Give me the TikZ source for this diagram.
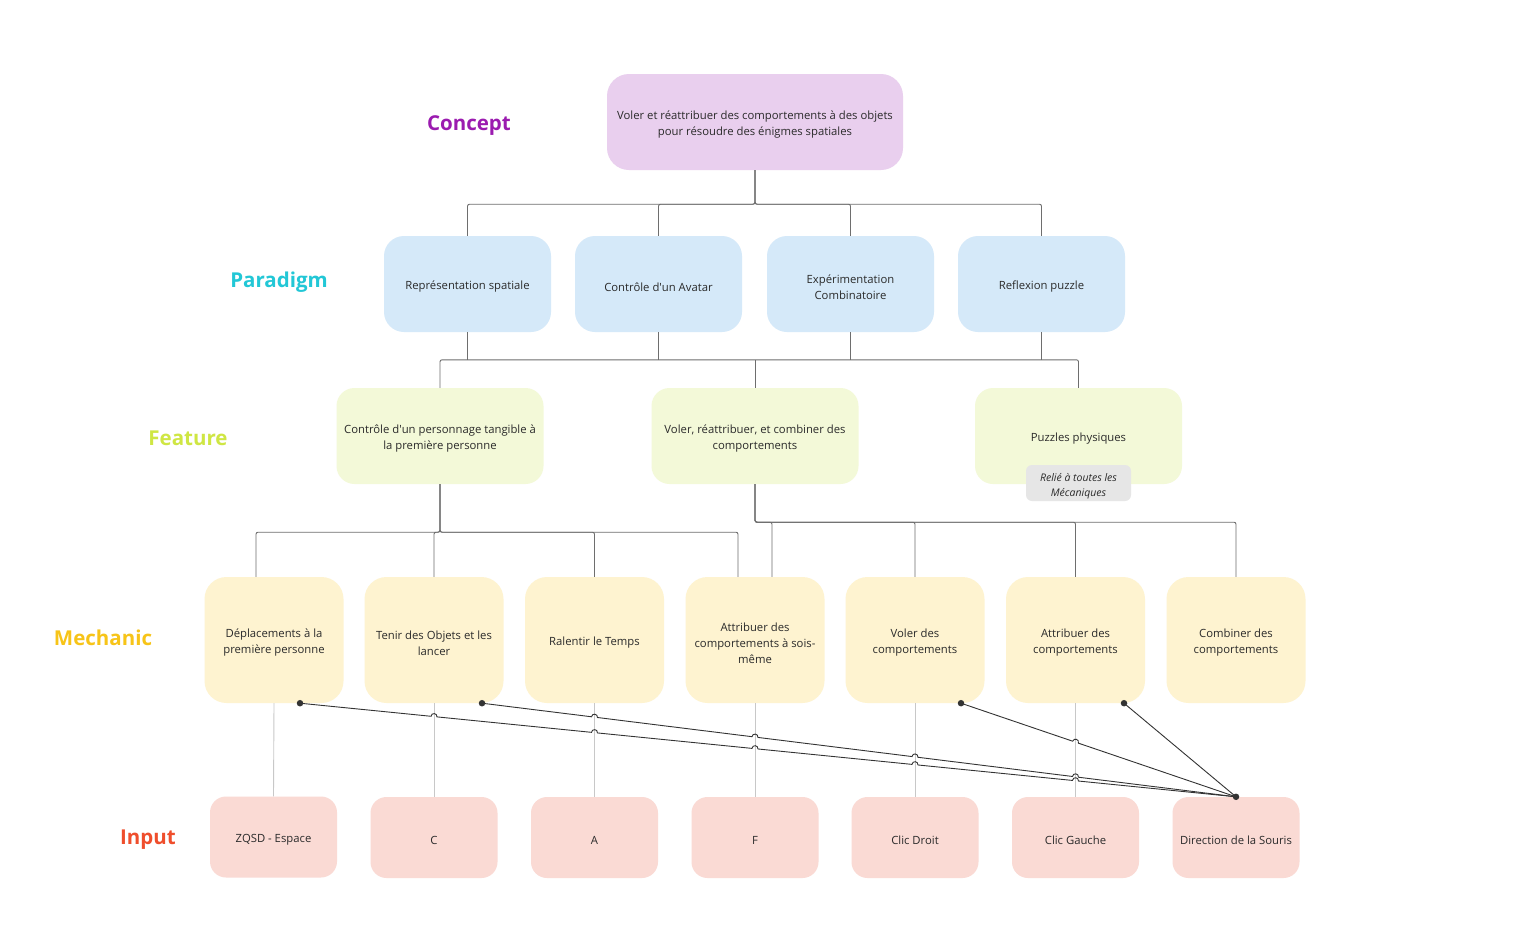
\documentclass[tikz,border=0pt]{standalone}
\usepackage{fontspec}
\setmainfont{Open Sans}
\usepackage{xcolor}
\usepackage{tikz}
\usetikzlibrary{calc}

% strut on the first line of each box text
\newcommand{\lift}{\rule{0pt}{14.5pt}}

\begin{document}
\begin{tikzpicture}[x=1pt,y=-1pt]
	\definecolor{cptfill}{HTML}{E9CFEE}
	\definecolor{parfill}{HTML}{D5E9F9}
	\definecolor{featfill}{HTML}{F3F9D8}
	\definecolor{mecfill}{HTML}{FEF3D0}
	\definecolor{inpfill}{HTML}{FADAD4}
	\definecolor{notefill}{HTML}{E6E6E6}
	\definecolor{cptcol}{HTML}{9B1BB0}
	\definecolor{parcol}{HTML}{22C7D6}
	\definecolor{featcol}{HTML}{CFE643}
	\definecolor{meccol}{HTML}{F7C418}
	\definecolor{inpcol}{HTML}{EF4E2C}
	\definecolor{txtgray}{HTML}{2A2A2A}
	\definecolor{branchgray}{HTML}{6E6E6E}
	\definecolor{keygray}{HTML}{C8C8C8}
	\definecolor{wiregray}{HTML}{333333}
	\tikzset{
		box/.style={
			rounded corners=20pt,
			inner sep=0pt,
			align=center,
			text=txtgray,
			font=\fontsize{11.3}{16}\selectfont
		},
		cptbox/.style={box, fill=cptfill, minimum width=296pt, minimum height=96pt, rounded corners=22pt},
		parbox/.style={box, fill=parfill, minimum width=167pt, minimum height=96pt},
		featbox/.style={box, fill=featfill, minimum width=207pt, minimum height=96pt, rounded corners=18pt},
		mecbox/.style={box, fill=mecfill, minimum width=139pt, minimum height=126pt, rounded corners=22pt},
		inpbox/.style={box, fill=inpfill, minimum width=127pt, minimum height=81pt, rounded corners=16pt},
		notebox/.style={box, fill=notefill, minimum width=105pt, minimum height=36pt, rounded corners=6pt,
			font=\fontsize{10.5}{15}\selectfont\itshape},
		rowlabel/.style={font=\fontsize{20.5}{24}\selectfont\bfseries, inner sep=0pt},
		branch/.style={draw=branchgray, line width=0.9pt, rounded corners=2pt},
		keyln/.style={draw=keygray, line width=0.9pt},
		wire/.style={draw=wiregray, line width=0.9pt},
		dot/.style={circle, fill=wiregray, inner sep=0pt, minimum size=6.5pt}
	}
	
	\useasboundingbox[fill=white] (0,0) rectangle (1517,945);
	
	% ======= Row labels =======
	\node[rowlabel, text=cptcol]  (lcpt)  at (469,126) {Concept};
	\node[rowlabel, text=parcol]  (lpar)  at (279,282) {Paradigm};
	\node[rowlabel, text=featcol] (lfeat) at (188,438) {Feature};
	\node[rowlabel, text=meccol]  (lmec)  at (103,638) {Mechanic};
	\node[rowlabel, text=inpcol]  (linp)  at (148,840) {Input};
	
	% ======= Concept =======
	\node[cptbox] (cpt) at (755,122) {\lift Voler et réattribuer des comportements à des objets\\pour résoudre des énigmes spatiales};
	
	% ======= Paradigm =======
	\node[parbox] (p1) at (467.5,284) {\lift Représentation spatiale};
	\node[parbox] (p2) at (658.5,284) {\lift Contrôle d\textquotesingle un Avatar};
	\node[parbox] (p3) at (850.5,284) {\lift Expérimentation\\Combinatoire};
	\node[parbox] (p4) at (1041.5,284) {\lift Reflexion puzzle};
	
	% ======= Feature =======
	\node[featbox] (f1) at (440,436) {\lift Contrôle d\textquotesingle un personnage tangible à\\la première personne};
	\node[featbox] (f2) at (755,436) {\lift Voler, réattribuer, et combiner des\\comportements};
	\node[featbox] (f3) at (1078.5,436) {\lift Puzzles physiques};
	\node[notebox] (note) at (1078.5,483) {\lift Relié à toutes les\\Mécaniques};
	
	% ======= Mechanic =======
	\node[mecbox] (m1) at (274,640) {\lift Déplacements à la\\première personne};
	\node[mecbox] (m2) at (434,640) {\lift Tenir des Objets et les\\lancer};
	\node[mecbox] (m3) at (594.5,640) {\lift Ralentir le Temps};
	\node[mecbox] (m4) at (755,640) {\lift Attribuer des\\comportements à sois-\\même};
	\node[mecbox] (m5) at (915,640) {\lift Voler des\\comportements};
	\node[mecbox] (m6) at (1075.5,640) {\lift Attribuer des\\comportements};
	\node[mecbox] (m7) at (1236,640) {\lift Combiner des\\comportements};
	
	% ======= Input =======
	\node[inpbox] (i1) at (273.5,837) {\lift ZQSD - Espace};
	\node[inpbox] (i2) at (434,837.5) {\lift C};
	\node[inpbox] (i3) at (594.5,837.5) {\lift A};
	\node[inpbox] (i4) at (755,837.5) {\lift F};
	\node[inpbox] (i5) at (915,837.5) {\lift Clic Droit};
	\node[inpbox] (i6) at (1075.5,837.5) {\lift Clic Gauche};
	\node[inpbox] (i7) at (1236,837.5) {\lift Direction de la Souris};
	
	% ======= Concept -> Paradigm =======
	\foreach \k in {1,...,4}
		\draw[branch] (cpt.south) -- ++(0,34) -| (p\k.north);
	
	% ======= Paradigm -> Feature =======
	\foreach \k in {1,...,4}
		\draw[branch] (p\k.south) -- ++(0,28);
	\draw[branch] (f1.north) -- ++(0,-28) -| (f3.north);
	\draw[branch] (f2.north) -- ++(0,-28);
	
	% ======= Feature -> Mechanic =======
	\draw[branch] (f1.south) -- ++(0,48) -| ($(m1.north)+(-18,0)$);
	\draw[branch] (f1.south) -- ++(0,48) -| (m2.north);
	\draw[branch] (f1.south) -- ++(0,48) -| (m3.north);
	\draw[branch] (f1.south) -- ++(0,48) -| ($(m4.north)+(-17,0)$);
	\draw[branch] (f2.south) -- ++(0,38) -| ($(m4.north)+(17,0)$);
	\draw[branch] (f2.south) -- ++(0,38) -| (m5.north);
	\draw[branch] (f2.south) -- ++(0,38) -| (m6.north);
	\draw[branch] (f2.south) -- ++(0,38) -| (m7.north);
	
	% ======= Mechanic -> Input =======
	\foreach \k in {1,...,6}
		\draw[keyln] (m\k.south) -- (i\k.north);
	
	% ======= Souris (avec sauts) =======
	\coordinate (d1) at ($(m1.south)+(26,0)$);
	\coordinate (d2) at ($(m2.south)+(48,0)$);
	\coordinate (d3) at ($(m5.south)+(46,0)$);
	\coordinate (d4) at ($(m6.south)+(48.5,0)$);
	\coordinate (sink) at (i7.north);
	
	\foreach \k in {2,...,6}
		\coordinate (xa\k) at (intersection of d1--sink and m\k.south--i\k.north);
	\foreach \k in {3,...,6}
		\coordinate (xb\k) at (intersection of d2--sink and m\k.south--i\k.north);
	\coordinate (xc6) at (intersection of d3--sink and m6.south--i6.north);
	
	\draw[wire] (d1) foreach \k in {2,...,6} {
		-- ($(xa\k)!3pt!(d1)$) to[bend left=90, looseness=1.7] ($(xa\k)!3pt!(sink)$)
	} -- (sink);
	\draw[wire] (d2) foreach \k in {3,...,6} {
		-- ($(xb\k)!3pt!(d2)$) to[bend left=90, looseness=1.7] ($(xb\k)!3pt!(sink)$)
	} -- (sink);
	\draw[wire] (d3) -- ($(xc6)!3pt!(d3)$) to[bend left=90, looseness=1.7] ($(xc6)!3pt!(sink)$) -- (sink);
	\draw[wire] (d4) -- (sink);
	
	\node[dot] (dot1) at (d1) {};
	\node[dot] (dot2) at (d2) {};
	\node[dot] (dot3) at (d3) {};
	\node[dot] (dot4) at (d4) {};
	\node[dot] (dot5) at (sink) {};
\end{tikzpicture}
\end{document}
